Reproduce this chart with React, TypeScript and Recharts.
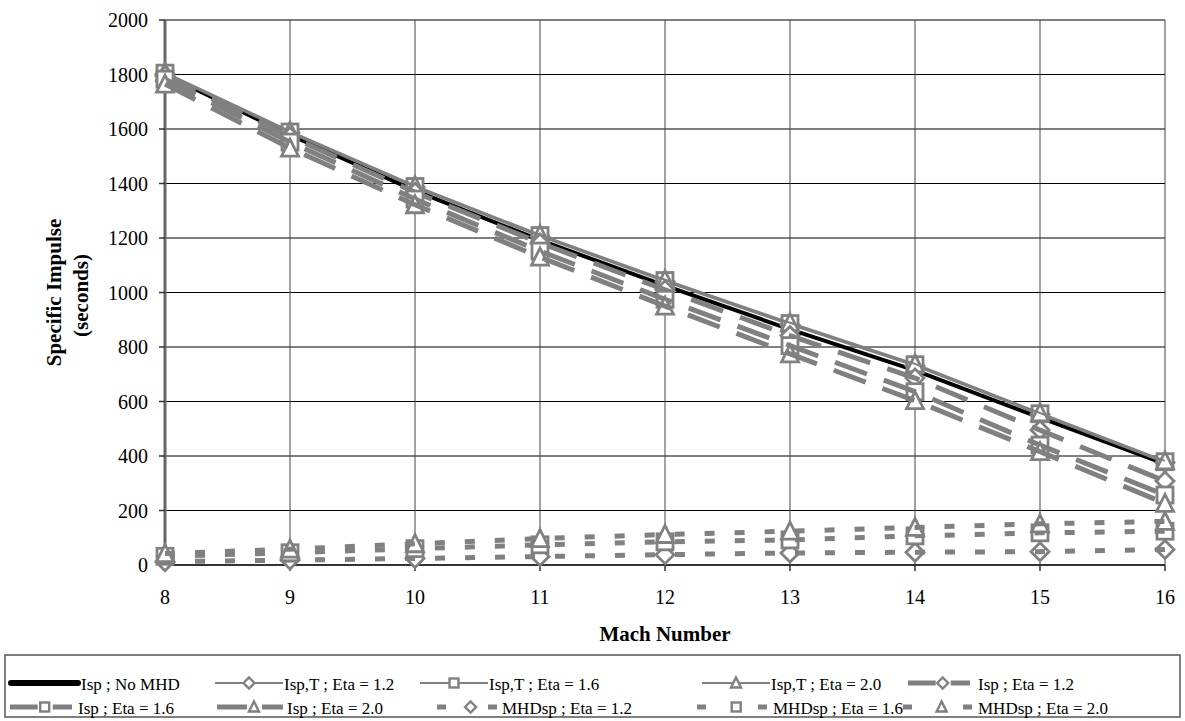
import React from 'react';
import { LineChart, Line, XAxis, YAxis, CartesianGrid } from 'recharts';

const FONT = '"Liberation Serif", "Times New Roman", Times, serif';
const GRAY = '#808080';

const machNumbers = [8, 9, 10, 11, 12, 13, 14, 15, 16];
const yTicks = [0, 200, 400, 600, 800, 1000, 1200, 1400, 1600, 1800, 2000];

const ispNoMhd = [1800, 1578, 1374, 1192, 1025, 865, 714, 541, 371];
const ispTEta12 = [1802, 1586, 1386, 1206, 1040, 882, 731, 552, 376];
const ispTEta16 = [1805, 1589, 1389, 1209, 1044, 886, 735, 555, 379];
const ispTEta20 = [1808, 1592, 1392, 1212, 1047, 889, 738, 558, 382];
const ispEta12 = [1795, 1572, 1368, 1182, 1010, 842, 686, 495, 308];
const ispEta16 = [1783, 1552, 1343, 1152, 975, 805, 636, 440, 257];
const ispEta20 = [1765, 1530, 1322, 1130, 950, 775, 603, 416, 226];
const mhdEta12 = [12, 18, 24, 31, 38, 44, 47, 49, 57];
const mhdEta16 = [32, 45, 60, 74, 85, 92, 107, 118, 124];
const mhdEta20 = [42, 58, 78, 97, 112, 124, 138, 151, 160];

const data = machNumbers.map((m, i) => ({
  mach: m,
  ispNoMhd: ispNoMhd[i],
  ispTEta12: ispTEta12[i],
  ispTEta16: ispTEta16[i],
  ispTEta20: ispTEta20[i],
  ispEta12: ispEta12[i],
  ispEta16: ispEta16[i],
  ispEta20: ispEta20[i],
  mhdEta12: mhdEta12[i],
  mhdEta16: mhdEta16[i],
  mhdEta20: mhdEta20[i],
}));

type Shape = 'none' | 'diamond' | 'square' | 'triangle';
type Kind = 'black' | 'thin' | 'long' | 'short';

interface SeriesDef {
  key: string;
  name: string;
  kind: Kind;
  marker: Shape;
}

const series: SeriesDef[] = [
  { key: 'ispNoMhd', name: 'Isp ; No MHD', kind: 'black', marker: 'none' },
  { key: 'ispTEta12', name: 'Isp,T ; Eta = 1.2', kind: 'thin', marker: 'diamond' },
  { key: 'ispTEta16', name: 'Isp,T ; Eta = 1.6', kind: 'thin', marker: 'square' },
  { key: 'ispTEta20', name: 'Isp,T ; Eta = 2.0', kind: 'thin', marker: 'triangle' },
  { key: 'ispEta12', name: 'Isp ; Eta = 1.2', kind: 'long', marker: 'diamond' },
  { key: 'ispEta16', name: 'Isp ; Eta = 1.6', kind: 'long', marker: 'square' },
  { key: 'ispEta20', name: 'Isp ; Eta = 2.0', kind: 'long', marker: 'triangle' },
  { key: 'mhdEta12', name: 'MHDsp ; Eta = 1.2', kind: 'short', marker: 'diamond' },
  { key: 'mhdEta16', name: 'MHDsp ; Eta = 1.6', kind: 'short', marker: 'square' },
  { key: 'mhdEta20', name: 'MHDsp ; Eta = 2.0', kind: 'short', marker: 'triangle' },
];

const lineStyle = (kind: Kind) => {
  switch (kind) {
    case 'black':
      return { stroke: '#000', strokeWidth: 4, strokeDasharray: undefined as string | undefined };
    case 'thin':
      return { stroke: GRAY, strokeWidth: 2, strokeDasharray: undefined };
    case 'long':
      return { stroke: GRAY, strokeWidth: 5, strokeDasharray: '34 18' };
    default:
      return { stroke: GRAY, strokeWidth: 5, strokeDasharray: '10 20' };
  }
};

const Marker = ({ shape, cx, cy, r, sw }: { shape: Shape; cx: number; cy: number; r: number; sw: number }) => {
  if (shape === 'square') {
    return <rect x={cx - r} y={cy - r} width={2 * r} height={2 * r} fill="#fff" stroke={GRAY} strokeWidth={sw} />;
  }
  if (shape === 'triangle') {
    const pts = `${cx},${cy - r - 1} ${cx + r + 0.5},${cy + r} ${cx - r - 0.5},${cy + r}`;
    return <polygon points={pts} fill="#fff" stroke={GRAY} strokeWidth={sw} strokeLinejoin="miter" />;
  }
  if (shape === 'diamond') {
    const d = r + 1;
    const pts = `${cx},${cy - d} ${cx + d},${cy} ${cx},${cy + d} ${cx - d},${cy}`;
    return <polygon points={pts} fill="#fff" stroke={GRAY} strokeWidth={sw} />;
  }
  return null;
};

const makeDot = (shape: Shape) => (props: any) => {
  const { cx, cy, index } = props;
  if (shape === 'none' || cx == null || cy == null) return <g key={`d-${index}`} />;
  return (
    <g key={`d-${shape}-${index}`}>
      <Marker shape={shape} cx={cx} cy={cy} r={8} sw={2.8} />
    </g>
  );
};

interface LegendPos {
  key: string;
  row: number;
  x1: number;
  x2: number;
  tx: number;
}

const legendLayout: LegendPos[] = [
  { key: 'ispNoMhd', row: 0, x1: 11, x2: 78, tx: 81 },
  { key: 'ispTEta12', row: 0, x1: 215, x2: 283, tx: 284 },
  { key: 'ispTEta16', row: 0, x1: 420, x2: 488, tx: 489 },
  { key: 'ispTEta20', row: 0, x1: 702, x2: 770, tx: 771 },
  { key: 'ispEta12', row: 0, x1: 908, x2: 970, tx: 978 },
  { key: 'ispEta16', row: 1, x1: 10, x2: 72, tx: 78 },
  { key: 'ispEta20', row: 1, x1: 217, x2: 283, tx: 287 },
  { key: 'mhdEta12', row: 1, x1: 437, x2: 497, tx: 502 },
  { key: 'mhdEta16', row: 1, x1: 697, x2: 767, tx: 773 },
  { key: 'mhdEta20', row: 1, x1: 903, x2: 972, tx: 978 },
];

const LegendBox = () => {
  const lineY = [683, 707];
  const textY = [690, 714];
  return (
    <svg width={1185} height={721} style={{ position: 'absolute', left: 0, top: 0, pointerEvents: 'none' }}>
      <rect x={5} y={655} width={1175} height={62} fill="none" stroke="#555" strokeWidth={1.5} />
      {legendLayout.map((p) => {
        const s = series.find((q) => q.key === p.key)!;
        const y = lineY[p.row];
        const m = p.x1 + 0.56 * (p.x2 - p.x1);
        let sym: React.ReactNode = null;
        if (s.kind === 'black') {
          sym = <line x1={p.x1} x2={p.x2} y1={y} y2={y} stroke="#000" strokeWidth={6} strokeLinecap="round" />;
        } else if (s.kind === 'thin') {
          const mc = (p.x1 + p.x2) / 2;
          sym = (
            <g>
              <line x1={p.x1} x2={p.x2} y1={y} y2={y} stroke={GRAY} strokeWidth={2} />
              <Marker shape={s.marker} cx={mc} cy={y} r={4.5} sw={2.4} />
            </g>
          );
        } else if (s.kind === 'long') {
          sym = (
            <g>
              <line x1={p.x1} x2={m - 7} y1={y} y2={y} stroke={GRAY} strokeWidth={5} />
              <line x1={m + 8} x2={p.x2} y1={y} y2={y} stroke={GRAY} strokeWidth={5} />
              <Marker shape={s.marker} cx={m} cy={y} r={4.5} sw={2.4} />
            </g>
          );
        } else {
          sym = (
            <g>
              <line x1={p.x1} x2={p.x1 + 9} y1={y} y2={y} stroke={GRAY} strokeWidth={5} />
              <line x1={p.x2 - 9} x2={p.x2} y1={y} y2={y} stroke={GRAY} strokeWidth={5} />
              <Marker shape={s.marker} cx={m} cy={y} r={4.5} sw={2.4} />
            </g>
          );
        }
        return (
          <g key={p.key}>
            {sym}
            <text x={p.tx} y={textY[p.row]} fontSize={17} fontFamily={FONT} fill="#000">
              {s.name}
            </text>
          </g>
        );
      })}
    </svg>
  );
};

const YTitle = (props: any) => {
  const vb = props.viewBox || {};
  const cy = (vb.y ?? 20) + (vb.height ?? 545) / 2;
  return (
    <g>
      <text
        x={61}
        y={cy}
        transform={`rotate(-90, 61, ${cy})`}
        textAnchor="middle"
        fontSize={21}
        fontWeight="bold"
        fontFamily={FONT}
        fill="#000"
      >
        Specific Impulse
      </text>
      <text
        x={88}
        y={cy + 3}
        transform={`rotate(-90, 88, ${cy + 3})`}
        textAnchor="middle"
        fontSize={21}
        fontWeight="bold"
        fontFamily={FONT}
        fill="#000"
      >
        (seconds)
      </text>
    </g>
  );
};

const XTitle = (props: any) => {
  const vb = props.viewBox || {};
  const cx = (vb.x ?? 165) + (vb.width ?? 1000) / 2;
  return (
    <text x={cx} y={641} textAnchor="middle" fontSize={21} fontWeight="bold" fontFamily={FONT} fill="#000">
      Mach Number
    </text>
  );
};

export default function App() {
  return (
    <div style={{ position: 'absolute', left: 0, top: 0, width: 1185, height: 721, background: '#fff' }}>
      <LineChart
        width={1185}
        height={721}
        data={data}
        margin={{ top: 20, right: 20, left: 0, bottom: 126 }}
      >
        <CartesianGrid horizontal vertical={false} stroke="#000" strokeWidth={1} />
        <CartesianGrid horizontal={false} vertical stroke="#444" strokeWidth={1} />
        <XAxis
          dataKey="mach"
          type="number"
          domain={[8, 16]}
          ticks={machNumbers}
          height={30}
          tickSize={6}
          tickMargin={19}
          axisLine={{ stroke: '#333', strokeWidth: 2 }}
          tickLine={{ stroke: '#333', strokeWidth: 1.5 }}
          tick={{ fontSize: 20, fill: '#000', fontFamily: FONT }}
          label={{ content: XTitle }}
          interval={0}
        />
        <XAxis
          xAxisId="top"
          orientation="top"
          dataKey="mach"
          type="number"
          domain={[8, 16]}
          height={0}
          tick={false}
          tickLine={false}
          axisLine={{ stroke: '#8c8c8c', strokeWidth: 3 }}
        />
        <YAxis
          type="number"
          domain={[0, 2000]}
          ticks={yTicks}
          width={165}
          tickSize={6}
          tickMargin={11}
          axisLine={{ stroke: '#666', strokeWidth: 3 }}
          tickLine={{ stroke: '#333', strokeWidth: 1.5 }}
          tick={{ fontSize: 20, fill: '#000', fontFamily: FONT }}
          label={{ content: YTitle }}
          interval={0}
        />
        <YAxis
          yAxisId="right"
          orientation="right"
          type="number"
          domain={[0, 2000]}
          width={0}
          tick={false}
          tickLine={false}
          axisLine={{ stroke: '#8c8c8c', strokeWidth: 3 }}
        />
        {series.map((s) => {
          const st = lineStyle(s.kind);
          return (
            <Line
              key={s.key}
              type="linear"
              dataKey={s.key}
              name={s.name}
              stroke={st.stroke}
              strokeWidth={st.strokeWidth}
              strokeDasharray={st.strokeDasharray}
              dot={makeDot(s.marker)}
              activeDot={false}
              isAnimationActive={false}
              zIndex={600}
            />
          );
        })}
      </LineChart>
      <LegendBox />
    </div>
  );
}
